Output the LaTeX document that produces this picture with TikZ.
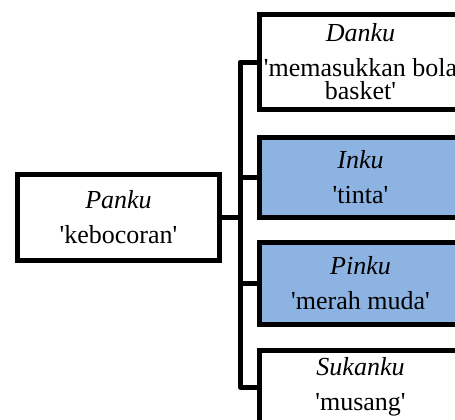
\documentclass[tikz,border=0pt]{standalone}
\usepackage{fontspec}
\setmainfont{Liberation Serif}
\definecolor{boxblue}{RGB}{141,179,226}
\newcommand{\sqt}{\textquotesingle}
\begin{document}
\begin{tikzpicture}[x=0.5pt,y=-0.5pt]
\tikzstyle{every node}=[font=\fontsize{13}{11.5}\selectfont]
\tikzstyle{wbox}=[draw,line width=2.5pt,fill=white,align=center,minimum width=101pt,inner sep=0pt]
\tikzstyle{bbox}=[wbox,fill=boxblue]
\tikzstyle{link}=[line width=2.5pt,line join=round]
\useasboundingbox (0,0) rectangle (455,419);

\node[wbox,minimum height=42.75pt](panku) at (118.5,217.25){\textit{Panku}\\[6pt]\sqt kebocoran\sqt};
\node[wbox,minimum height=47.5pt](danku) at (360.5,62){\textit{Danku}\\[6pt]\sqt memasukkan bola\\basket\sqt};
\node[bbox,minimum height=40.25pt](inku) at (360.5,177.25){\textit{Inku}\\[6pt]\sqt tinta\sqt};
\node[bbox,minimum height=41pt](pinku) at (360.5,283.5){\textit{Pinku}\\[6pt]\sqt merah muda\sqt};
\node[wbox,minimum height=36.75pt](sukanku) at (360.5,387){\textit{Sukanku}\\[6pt]\sqt musang\sqt};

\coordinate (trunk) at (240,217.25);
\draw[link] (panku.east) -- (trunk);
\draw[link] (danku.west) -| (trunk) |- (sukanku.west);
\draw[link] (inku.west) -- (inku.west -| trunk);
\draw[link] (pinku.west) -- (pinku.west -| trunk);

\end{tikzpicture}
\end{document}
